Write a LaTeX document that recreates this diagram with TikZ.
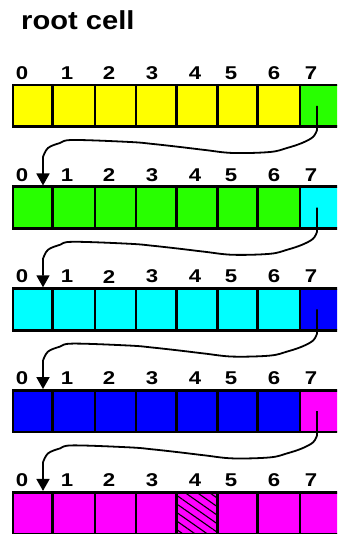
\documentclass[tikz,border=0pt]{standalone}
\usepackage{fontspec}
\setmainfont{Liberation Sans}
\usetikzlibrary{arrows.meta,patterns.meta}
\definecolor{cyel}{RGB}{255,255,0}
\definecolor{cgrn}{RGB}{40,255,0}
\definecolor{ccya}{RGB}{0,255,255}
\definecolor{cblu}{RGB}{0,0,255}
\definecolor{cmag}{RGB}{255,0,255}
\tikzset{
  cell/.style={draw=black, line width=2.7pt, inner sep=0pt, outer sep=0pt, minimum height=41.7pt},
  idx/.style={font=\bfseries\fontsize{18.5}{18.5}\selectfont, inner sep=0pt, xscale=1.2},
  title/.style={font=\bfseries\fontsize{26}{26}\selectfont, inner sep=0pt, xscale=1.12, anchor=base west},
  conn/.style={line width=1.8pt, black, line join=round, -{Triangle[width=13pt,length=12pt]}},
  hatch/.style={postaction={pattern={Lines[angle=-35,distance=7pt,line width=1.1pt]}, pattern color=black}}
}
\begin{document}
\begin{tikzpicture}[x=1pt,y=1pt]
\clip (0,0) rectangle (337,534);
\fill[white] (0,0) rectangle (337,534);
\node[title] (ttl) at (21,504) {root cell};
% rows
\foreach \r/\ca/\cb in {0/cyel/cgrn, 1/cgrn/ccya, 2/ccya/cblu, 3/cblu/cmag, 4/cmag/cmag} {
  \pgfmathsetmacro{\yc}{428.15-101.8*\r}
  \pgfmathsetmacro{\yl}{461-101.8*\r}
  \foreach \a/\b/\lx [count=\k from 0] in {13/52.5/22, 52.5/95/67, 95/136/109, 136/176.5/152, 176.5/217.5/195, 217.5/257.5/231, 257.5/300/274, 300/345/311} {
    \pgfmathsetmacro{\xc}{(\a+\b)/2}
    \pgfmathsetmacro{\w}{\b-\a}
    \ifnum\k=7
      \node[cell, fill=\cb, minimum width=\w pt] (r\r c\k) at (\xc,\yc) {};
    \else
      \node[cell, fill=\ca, minimum width=\w pt] (r\r c\k) at (\xc,\yc) {};
    \fi
    \node[idx] (l\r d\k) at (\lx,\yl) {\k};
  }
}
% hatched cell in last row
\node[cell, fill=cmag, hatch, minimum width=41pt] (hc) at (r4c4.center) {};
% connectors
\foreach \r [evaluate=\r as \n using int(\r+1)] in {0,1,2,3} {
  \begin{scope}[yshift={-101.8*\r pt}]
    \draw[conn] ([xshift=-5.5pt]r\r c7.center) -- (317,404)
      plot[smooth, tension=0.6] coordinates {(317,404) (313,397) (302,391) (287,386) (270,382) (233,381) (205,384) (180,387) (153,390) (130,392) (73,394) (60,391) (48,386) (43,377)}
      -- ([xshift=10.25pt,yshift=1.3pt]r\n c0.north);
  \end{scope}
}
\end{tikzpicture}
\end{document}
